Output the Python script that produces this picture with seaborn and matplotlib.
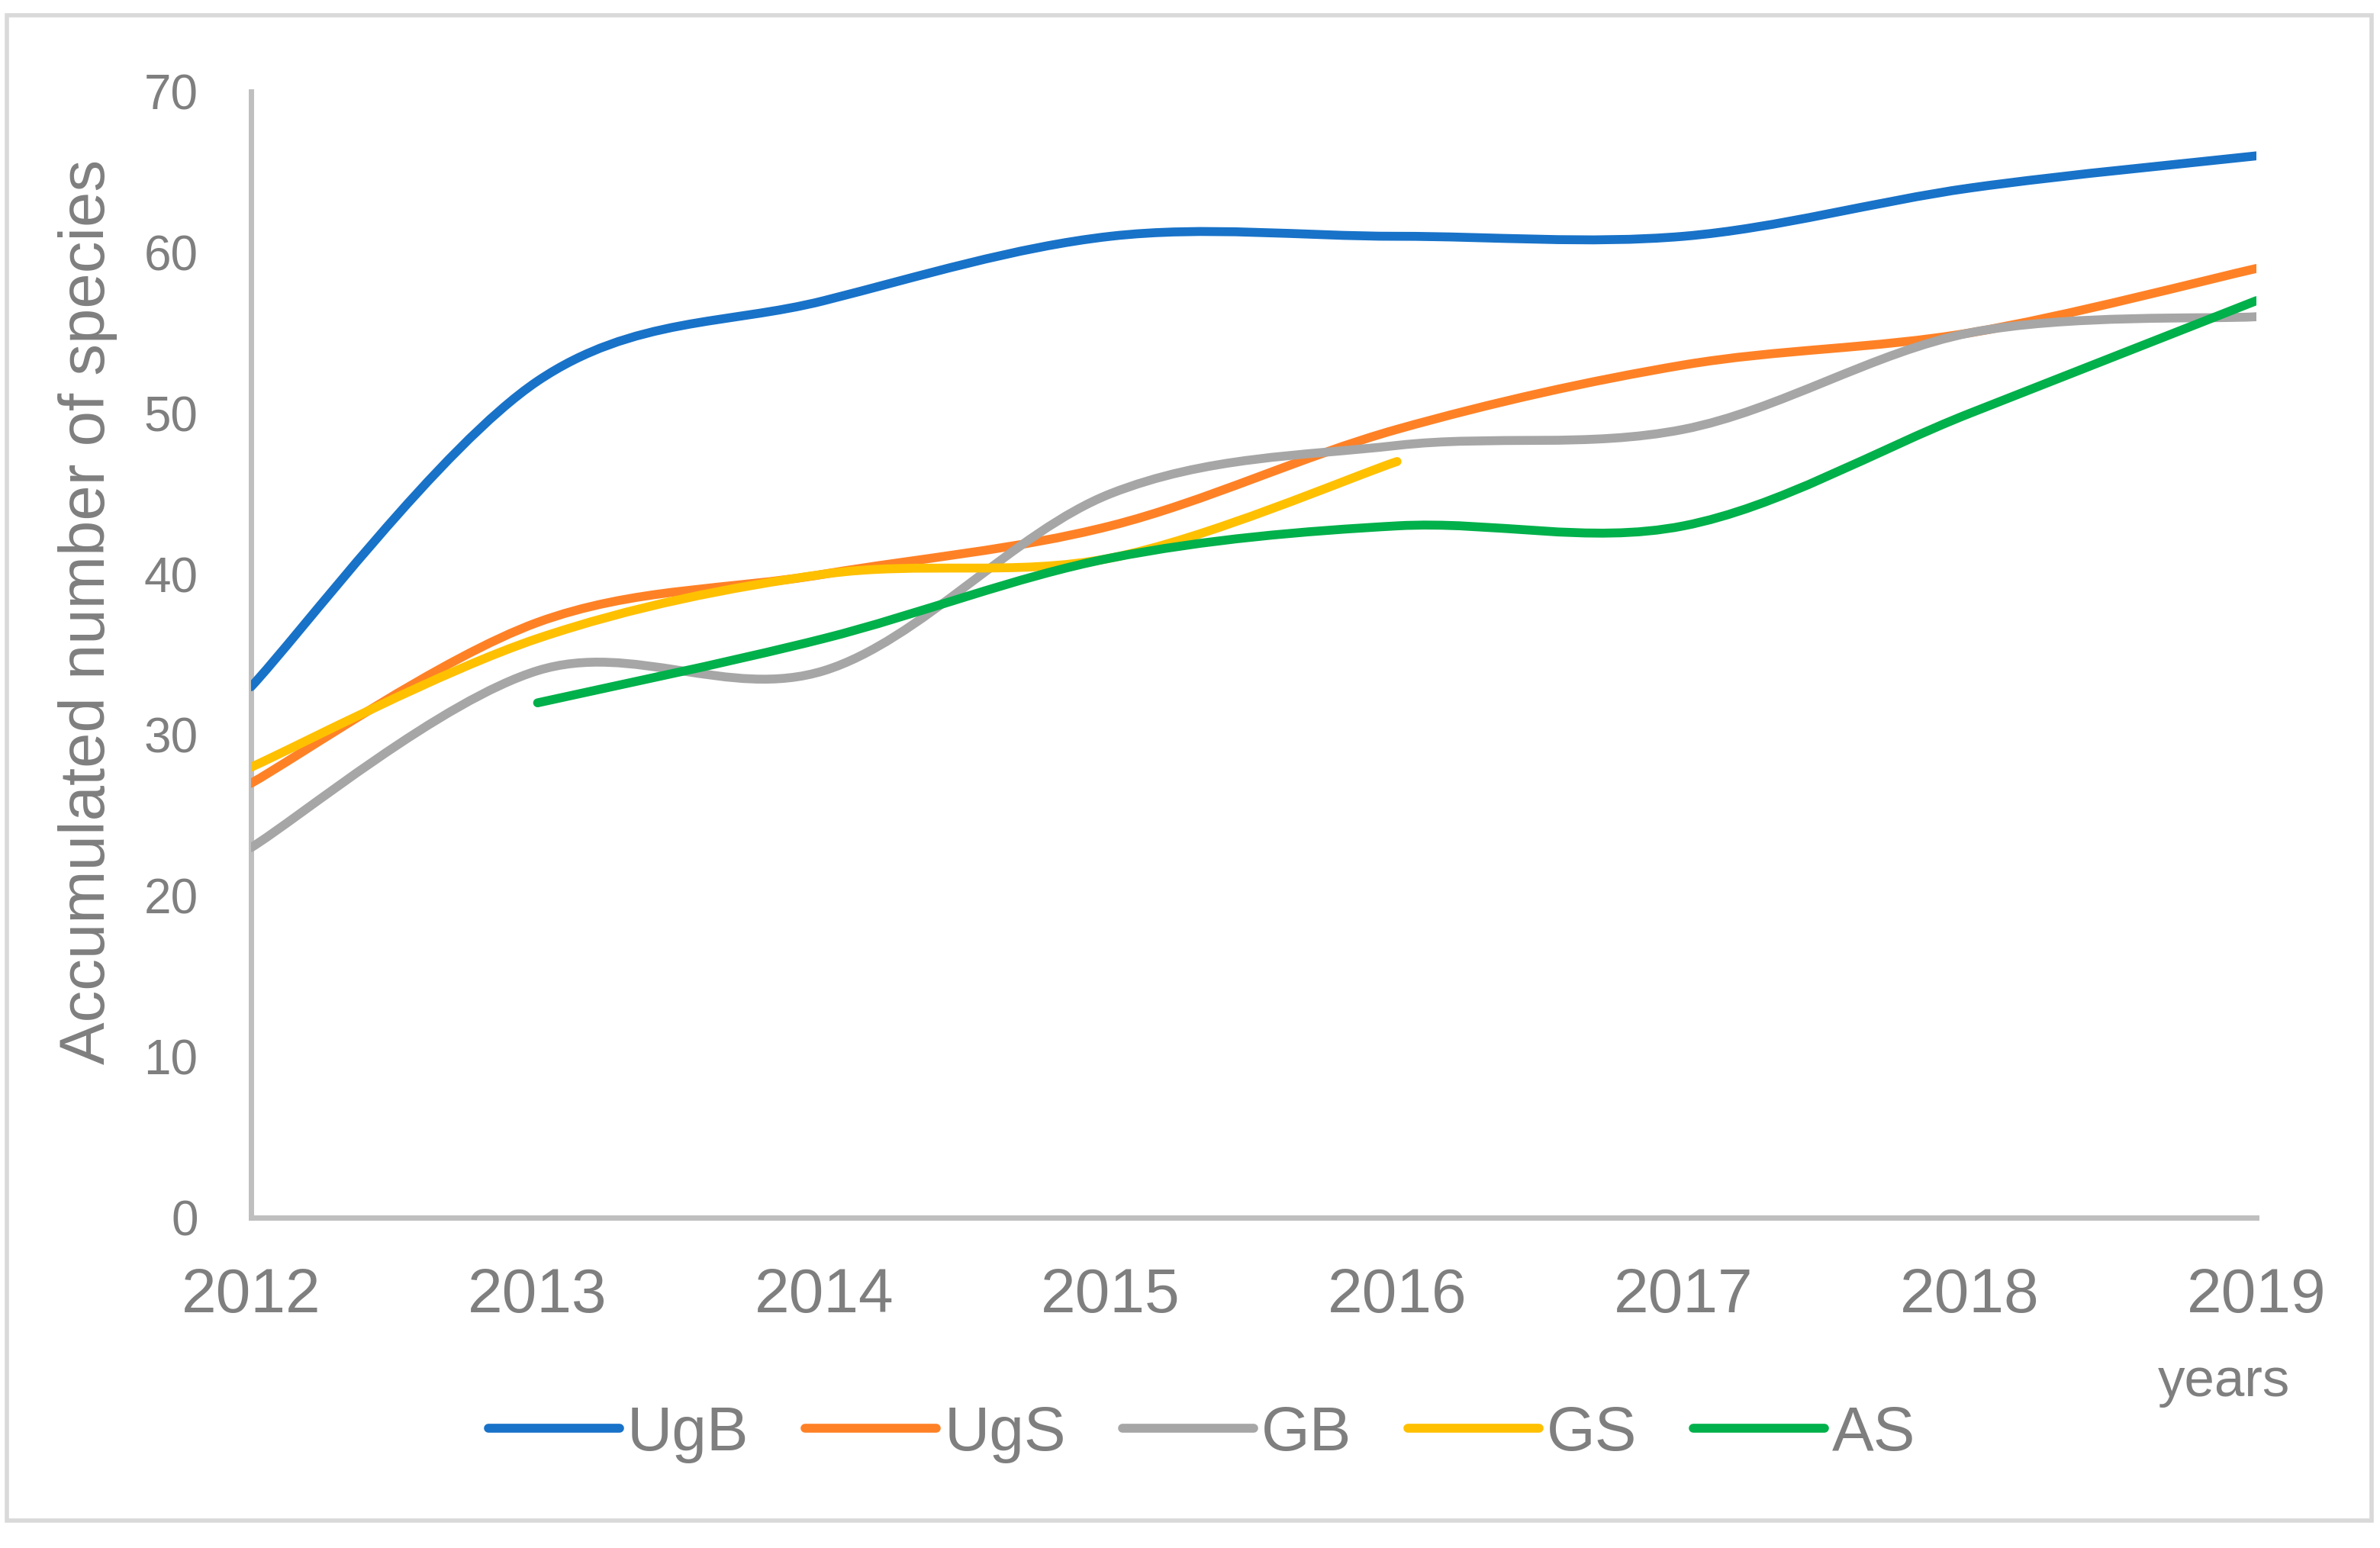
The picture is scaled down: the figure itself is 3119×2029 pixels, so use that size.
import numpy as np
import pandas as pd
import seaborn as sns
import matplotlib.pyplot as plt
from matplotlib.path import Path
from matplotlib.patches import PathPatch, Rectangle
from matplotlib.lines import Line2D

# ------------------------
# Data
# ------------------------
YEARS = [2012, 2013, 2014, 2015, 2016, 2017, 2018, 2019]
UGB = [33, 52, 57, 61, 61, 61, 64, 66]
UGS = [27, 37, 40, 43, 49, 53, 55, 59]
GB = [23, 34, 34, 45, 48, 49, 55, 56]
GS_YEARS = [2012, 2013, 2014, 2015, 2016]
GS = [28, 36, 40, 41, 47]
AS_YEARS = [2013, 2014, 2015, 2016, 2017, 2018, 2019]
AS = [32, 36, 41, 43, 43, 50, 57]

SITES = ['UgB', 'UgS', 'GB', 'GS', 'AS']
COLORS = ['#1872C8', '#FF8126', '#A6A6A6', '#FFC000', '#00B04A']
TEXT_GREY = '#7F7F7F'

df = pd.concat([
    pd.DataFrame({'year': YEARS, 'species': UGB, 'site': 'UgB'}),
    pd.DataFrame({'year': YEARS, 'species': UGS, 'site': 'UgS'}),
    pd.DataFrame({'year': YEARS, 'species': GB, 'site': 'GB'}),
    pd.DataFrame({'year': GS_YEARS, 'species': GS, 'site': 'GS'}),
    pd.DataFrame({'year': AS_YEARS, 'species': AS, 'site': 'AS'}),
], ignore_index=True)


def smooth_path(x, y):
    # Excel style smoothed line: cubic Bezier through the points
    pts = np.column_stack([x, y]).astype(float)
    n = len(pts)
    verts = [pts[0]]
    codes = [Path.MOVETO]
    for i in range(n - 1):
        p0 = pts[max(i - 1, 0)]
        p1 = pts[i]
        p2 = pts[i + 1]
        p3 = pts[min(i + 2, n - 1)]
        verts += [p1 + (p2 - p0) / 6, p2 - (p3 - p1) / 6, p2]
        codes += [Path.CURVE4] * 3
    return Path(verts, codes)


# ------------------------
# Plotting
# ------------------------
sns.set_theme(style='white')
plt.rcParams['font.family'] = ['Liberation Sans', 'DejaVu Sans']

fig = plt.figure(figsize=(15.595, 10.145), dpi=200)
ax = fig.add_axes([0.1055, 0.2134, 0.8426, 0.7275])

# seaborn handles the data/hue mapping, the visible curves are smoothed paths
sns.lineplot(data=df, x='year', y='species', hue='site', hue_order=SITES,
             palette=COLORS, legend=False, ax=ax, linewidth=0)

for site, color in zip(SITES, COLORS):
    sub = df[df['site'] == site]
    patch = PathPatch(smooth_path(sub['year'], sub['species']), fill=False,
                      edgecolor=color, lw=4.2, capstyle='round', joinstyle='round',
                      zorder=3)
    ax.add_patch(patch)

# Axis settings
ax.set_xlim(2012, 2019)
ax.set_ylim(0, 70)
ax.set_xticks(YEARS)
ax.set_xticklabels([str(y) for y in YEARS])
ax.set_yticks(range(0, 71, 10))
ax.set_xlabel('')
ax.set_ylabel('')
ax.tick_params(axis='both', length=0, colors=TEXT_GREY)
ax.tick_params(axis='x', labelsize=29.5, pad=23.5)
ax.tick_params(axis='y', labelsize=23, pad=25)
for side in ['top', 'right']:
    ax.spines[side].set_visible(False)
for side in ['left', 'bottom']:
    ax.spines[side].set_color('#BFBFBF')
    ax.spines[side].set_linewidth(2.5)

fig.text(0.037, 0.6047, 'Accumulated number of species', rotation=90,
         ha='center', va='center', fontsize=30, color=TEXT_GREY)
fig.text(0.9343, 0.0981, 'years', ha='center', va='baseline',
         fontsize=25.5, color=TEXT_GREY)

# Legend
handles = [Line2D([0], [0], color=c, lw=4.2, solid_capstyle='round') for c in COLORS]
leg = fig.legend(handles, SITES, loc='center', bbox_to_anchor=(0.505, 0.0735),
                 ncol=5, frameon=False, fontsize=29.5, handlelength=2.1,
                 handletextpad=0.12, columnspacing=0.9)
for t in leg.get_texts():
    t.set_color(TEXT_GREY)

# Outer chart border
fig.patches.append(Rectangle((0.003, 0.0178), 0.9935, 0.9724, transform=fig.transFigure,
                             fill=False, edgecolor='#D9D9D9', lw=2.0))

# ------------------------
# Save figure
# ------------------------
fig.savefig('out.png', dpi=200)
